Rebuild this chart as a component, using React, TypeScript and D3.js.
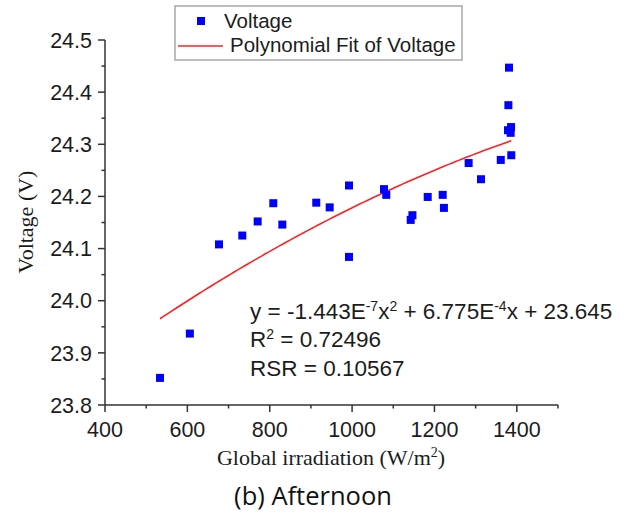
import React from "react";
import * as d3 from "d3";

const irradiation = [533.6, 606, 676.8, 733.4, 770.7, 808.7, 830.6, 913, 945.6, 992.5, 992.5, 1077.5, 1083, 1146.5, 1142.3, 1183.6, 1220, 1223, 1283, 1313, 1361, 1386.6, 1381, 1379.5, 1378.6, 1386, 1385];
const voltage = [23.852, 23.937, 24.108, 24.125, 24.152, 24.187, 24.146, 24.188, 24.179, 24.221, 24.084, 24.214, 24.203, 24.164, 24.155, 24.199, 24.203, 24.178, 24.264, 24.233, 24.27, 24.279, 24.447, 24.375, 24.327, 24.333, 24.322];
const fitCoefficients = [23.645, 6.775e-4, -1.443e-7]; // c0, c1, c2
const xTicks = [400, 600, 800, 1000, 1200, 1400];
const xMinorTicks = [500, 700, 900, 1100, 1300, 1500];
const yTicks = [23.8, 23.9, 24.0, 24.1, 24.2, 24.3, 24.4, 24.5];
const yMinorTicks = [23.85, 23.95, 24.05, 24.15, 24.25, 24.35, 24.45];

const W = 626;
const H = 513;

export default function App() {
  const x = d3.scaleLinear().domain([400, 1500]).range([105, 558]);
  const y = d3.scaleLinear().domain([23.8, 24.5]).range([405, 40]);
  const axisColor = "#333";
  const textColor = "#1c1c1c";
  const sans = "'Liberation Sans', Arial, sans-serif";
  const serif = "'Liberation Serif', 'Times New Roman', serif";

  const xMin = d3.min(irradiation) as number;
  const xMax = d3.max(irradiation) as number;
  const fitX = d3.range(xMin, xMax, (xMax - xMin) / 100).concat([xMax]);
  const fit = (v: number) => fitCoefficients[0] + fitCoefficients[1] * v + fitCoefficients[2] * v * v;
  const line = d3.line<number>().x((d) => x(d)).y((d) => y(fit(d)));

  const ms = 8;

  return (
    <svg width={W} height={H} style={{ position: "absolute", left: 0, top: 0, background: "#fff" }}>
      {/* axes */}
      <line x1={105} x2={105} y1={y(24.5)} y2={y(23.8)} stroke={axisColor} strokeWidth={1.5} />
      <line x1={105} x2={x(1500)} y1={405} y2={405} stroke={axisColor} strokeWidth={1.5} />
      {yTicks.map((t) => (
        <g key={"yt" + t}>
          <line x1={98} x2={105} y1={y(t)} y2={y(t)} stroke={axisColor} strokeWidth={1.5} />
          <text x={92} y={y(t) + 7.7} textAnchor="end" fontFamily={sans} fontSize={21.5} fill={textColor}>
            {t.toFixed(1)}
          </text>
        </g>
      ))}
      {yMinorTicks.map((t) => (
        <line key={"ym" + t} x1={101.5} x2={105} y1={y(t)} y2={y(t)} stroke={axisColor} strokeWidth={1.5} />
      ))}
      {xTicks.map((t) => (
        <g key={"xt" + t}>
          <line x1={x(t)} x2={x(t)} y1={405} y2={412} stroke={axisColor} strokeWidth={1.5} />
          <text x={x(t)} y={436.5} textAnchor="middle" fontFamily={sans} fontSize={21.5} fill={textColor}>
            {t}
          </text>
        </g>
      ))}
      {xMinorTicks.map((t) => (
        <line key={"xm" + t} x1={x(t)} x2={x(t)} y1={405} y2={408.5} stroke={axisColor} strokeWidth={1.5} />
      ))}

      {/* axis titles */}
      <text
        transform="translate(33,222) rotate(-90)"
        textAnchor="middle"
        fontFamily={serif}
        fontSize={22}
        fill={textColor}
      >
        Voltage (V)
      </text>
      <text x={331} y={465} textAnchor="middle" fontFamily={serif} fontSize={22} fill={textColor}>
        Global irradiation (W/m
        <tspan dy={-8} fontSize={14}>2</tspan>
        <tspan dy={8}>)</tspan>
      </text>

      {/* fit */}
      <path d={line(fitX) || ""} fill="none" stroke="#ff2020" strokeWidth={1.6} />

      {/* points */}
      {irradiation.map((v, i) => (
        <rect
          key={"p" + i}
          x={x(v) - ms / 2}
          y={y(voltage[i]) - ms / 2}
          width={ms}
          height={ms}
          fill="#0000ff"
        />
      ))}

      {/* legend */}
      <rect x={175} y={6} width={287} height={54} fill="#fff" stroke="#a8a8a8" strokeWidth={1.5} />
      <rect x={201 - ms / 2} y={21 - ms / 2} width={ms} height={ms} fill="#0000ff" />
      <text x={224} y={27.5} fontFamily={sans} fontSize={20.5} fill={textColor}>
        Voltage
      </text>
      <line x1={178} x2={223} y1={46} y2={46} stroke="#ff2020" strokeWidth={1.6} />
      <text x={230} y={52} fontFamily={sans} fontSize={20.5} fill={textColor}>
        Polynomial Fit of Voltage
      </text>

      {/* equation */}
      <g fontFamily={sans} fontSize={22.5} fill={textColor}>
        <text x={250} y={318.5}>
          y = -1.443E<tspan dy={-8} fontSize={14}>-7</tspan>
          <tspan dy={8}>x</tspan>
          <tspan dy={-8} fontSize={14}>2</tspan>
          <tspan dy={8}> + 6.775E</tspan>
          <tspan dy={-8} fontSize={14}>-4</tspan>
          <tspan dy={8}>x + 23.645</tspan>
        </text>
        <text x={250} y={347}>
          R<tspan dy={-8} fontSize={14}>2</tspan>
          <tspan dy={8}> = 0.72496</tspan>
        </text>
        <text x={250} y={375.5}>RSR = 0.10567</text>
      </g>

      {/* caption */}
      <text x={313} y={505} textAnchor="middle" fontFamily="'Open Sans', sans-serif" fontSize={25.5} fill="#111">
        (b) Afternoon
      </text>
    </svg>
  );
}
